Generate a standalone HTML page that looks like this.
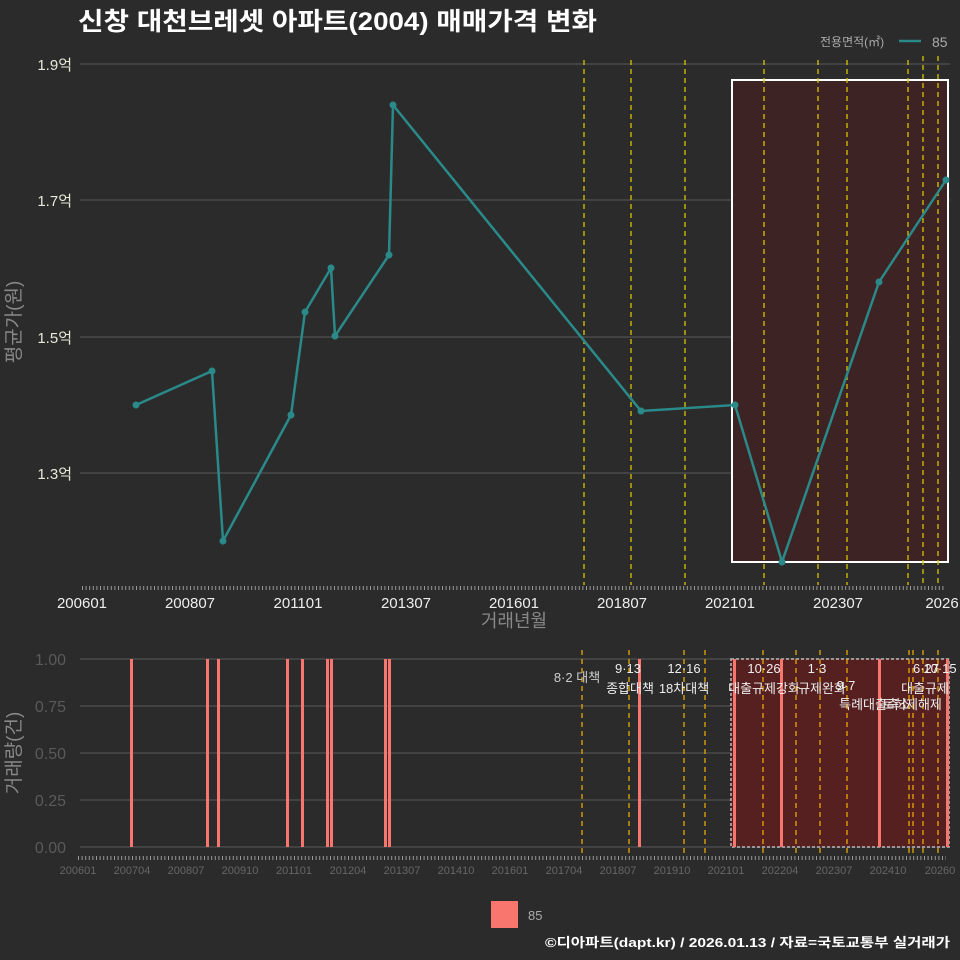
<!DOCTYPE html><html><head><meta charset="utf-8"><style>body{margin:0;background:#2b2b2b}svg{display:block}text{font-family:"Liberation Sans","Noto Sans CJK KR",sans-serif}</style></head><body>
<svg width="960" height="960" viewBox="0 0 960 960">
<rect width="960" height="960" fill="#2b2b2b"/>
<text x="78" y="30" font-size="25" font-weight="bold" fill="#fff" textLength="519" lengthAdjust="spacingAndGlyphs">신창 대천브레셋 아파트(2004) 매매가격 변화</text>
<text x="820" y="46" font-size="12" fill="#aaa">전용면적(㎡)</text>
<line x1="899" y1="41" x2="921" y2="41" stroke="#2a8a8a" stroke-width="2.5"/>
<text x="932" y="47" font-size="14" fill="#aaa">85</text>
<g stroke="#5a5a5a" stroke-width="1"><line x1="80" y1="64" x2="950" y2="64"/><line x1="80" y1="200" x2="950" y2="200"/><line x1="80" y1="337" x2="950" y2="337"/><line x1="80" y1="473" x2="950" y2="473"/></g>
<g fill="#e8e8d8" font-size="15" text-anchor="end"><text x="72" y="70">1.9억</text><text x="72" y="206">1.7억</text><text x="72" y="343">1.5억</text><text x="72" y="479">1.3억</text></g>
<text transform="translate(20,322) rotate(-90)" font-size="19" fill="#888" text-anchor="middle">평균가(원)</text>
<rect x="732" y="80" width="216" height="482" fill="#3d2323" stroke="#fff" stroke-width="2"/>
<g stroke="#d8c400" stroke-width="1.3" stroke-dasharray="5,4"><line x1="584" y1="60" x2="584" y2="585"/><line x1="631" y1="60" x2="631" y2="585"/><line x1="685" y1="60" x2="685" y2="585"/><line x1="764" y1="60" x2="764" y2="585"/><line x1="818" y1="60" x2="818" y2="585"/><line x1="847" y1="60" x2="847" y2="585"/><line x1="908" y1="60" x2="908" y2="585"/><line x1="923" y1="56" x2="923" y2="585"/><line x1="938" y1="56" x2="938" y2="585"/></g>
<polyline fill="none" stroke="#2a8a8a" stroke-width="2.5" points="136,405 212,371 223,541 291,415 305,312 331,268 335,336 389,255 393,105 641,411 735,405 782,562 879,282 946,180"/>
<g fill="#2a8a8a"><circle cx="136" cy="405" r="3.5"/><circle cx="212" cy="371" r="3.5"/><circle cx="223" cy="541" r="3.5"/><circle cx="291" cy="415" r="3.5"/><circle cx="305" cy="312" r="3.5"/><circle cx="331" cy="268" r="3.5"/><circle cx="335" cy="336" r="3.5"/><circle cx="389" cy="255" r="3.5"/><circle cx="393" cy="105" r="3.5"/><circle cx="641" cy="411" r="3.5"/><circle cx="735" cy="405" r="3.5"/><circle cx="782" cy="562" r="3.5"/><circle cx="879" cy="282" r="3.5"/><circle cx="946" cy="180" r="3.5"/></g>
<line x1="82" y1="588" x2="946" y2="588" stroke="#999" stroke-width="4" stroke-dasharray="1,2.6"/>
<g fill="#eee" font-size="15" text-anchor="middle"><text x="82" y="608">200601</text><text x="190" y="608">200807</text><text x="298" y="608">201101</text><text x="406" y="608">201307</text><text x="514" y="608">201601</text><text x="622" y="608">201807</text><text x="730" y="608">202101</text><text x="838" y="608">202307</text><text x="942" y="608">2026</text></g>
<text x="514" y="627" font-size="18" fill="#888" text-anchor="middle">거래년월</text>
<g stroke="#5a5a5a"><line x1="80" y1="659" x2="950" y2="659"/><line x1="80" y1="706" x2="950" y2="706"/><line x1="80" y1="753" x2="950" y2="753"/><line x1="80" y1="800" x2="950" y2="800"/><line x1="80" y1="847" x2="950" y2="847"/></g>
<g fill="#5a5a5a" font-size="16" text-anchor="end"><text x="66" y="665">1.00</text><text x="66" y="712">0.75</text><text x="66" y="759">0.50</text><text x="66" y="806">0.25</text><text x="66" y="853">0.00</text></g>
<text transform="translate(20,753) rotate(-90)" font-size="19" fill="#888" text-anchor="middle">거래량(건)</text>
<rect x="731" y="659" width="218" height="188" fill="#562020" stroke="#bbb" stroke-width="1.5" stroke-dasharray="3,2"/>
<g stroke="#e8a800" stroke-width="1.3" stroke-dasharray="5,4"><line x1="582" y1="650" x2="582" y2="857"/><line x1="629" y1="650" x2="629" y2="857"/><line x1="684" y1="650" x2="684" y2="857"/><line x1="705" y1="650" x2="705" y2="857"/><line x1="763" y1="650" x2="763" y2="857"/><line x1="796" y1="650" x2="796" y2="857"/><line x1="820" y1="650" x2="820" y2="857"/><line x1="847" y1="650" x2="847" y2="857"/><line x1="909" y1="650" x2="909" y2="857"/><line x1="913" y1="650" x2="913" y2="857"/><line x1="923" y1="650" x2="923" y2="857"/><line x1="938" y1="650" x2="938" y2="857"/></g>
<g fill="#f8766d"><rect x="130" y="659" width="3" height="188"/><rect x="206" y="659" width="3" height="188"/><rect x="217" y="659" width="3" height="188"/><rect x="286" y="659" width="3" height="188"/><rect x="301" y="659" width="3" height="188"/><rect x="326" y="659" width="3" height="188"/><rect x="330" y="659" width="3" height="188"/><rect x="384" y="659" width="3" height="188"/><rect x="388" y="659" width="3" height="188"/><rect x="638" y="659" width="3" height="188"/><rect x="733" y="659" width="3" height="188"/><rect x="780" y="659" width="3" height="188"/><rect x="878" y="659" width="3" height="188"/><rect x="946" y="659" width="3" height="188"/></g>
<g fill="#eee" font-size="13" text-anchor="middle"><text x="577" y="682" fill="#ccc">8·2 대책</text><text x="628" y="673">9·13</text><text x="630" y="693">종합대책</text><text x="684" y="673">12·16</text><text x="684" y="693">18차대책</text><text x="764" y="673">10·26</text><text x="764" y="693">대출규제강화</text><text x="817" y="673">1·3</text><text x="822" y="693">규제완화</text><text x="846" y="690">9·7</text><text x="875" y="709">특례대출축소</text><text x="912" y="709">토허제해제</text><text x="926" y="673">6·27</text><text x="940" y="673">10·15</text><text x="925" y="693">대출규제</text></g>
<line x1="78" y1="858" x2="946" y2="858" stroke="#999" stroke-width="4" stroke-dasharray="1,2.6"/>
<g fill="#666" font-size="11" text-anchor="middle"><text x="78" y="874">200601</text><text x="132" y="874">200704</text><text x="186" y="874">200807</text><text x="240" y="874">200910</text><text x="294" y="874">201101</text><text x="348" y="874">201204</text><text x="402" y="874">201307</text><text x="456" y="874">201410</text><text x="510" y="874">201601</text><text x="564" y="874">201704</text><text x="618" y="874">201807</text><text x="672" y="874">201910</text><text x="726" y="874">202101</text><text x="780" y="874">202204</text><text x="834" y="874">202307</text><text x="888" y="874">202410</text><text x="940" y="874">20260</text></g>
<rect x="491" y="901" width="27" height="27" fill="#f8766d"/>
<text x="528" y="920" font-size="13" fill="#aaa">85</text>
<text x="545" y="947" font-size="13" font-weight="bold" fill="#fff" textLength="405" lengthAdjust="spacingAndGlyphs">©디아파트(dapt.kr) / 2026.01.13 / 자료=국토교통부 실거래가</text>
</svg></body></html>
